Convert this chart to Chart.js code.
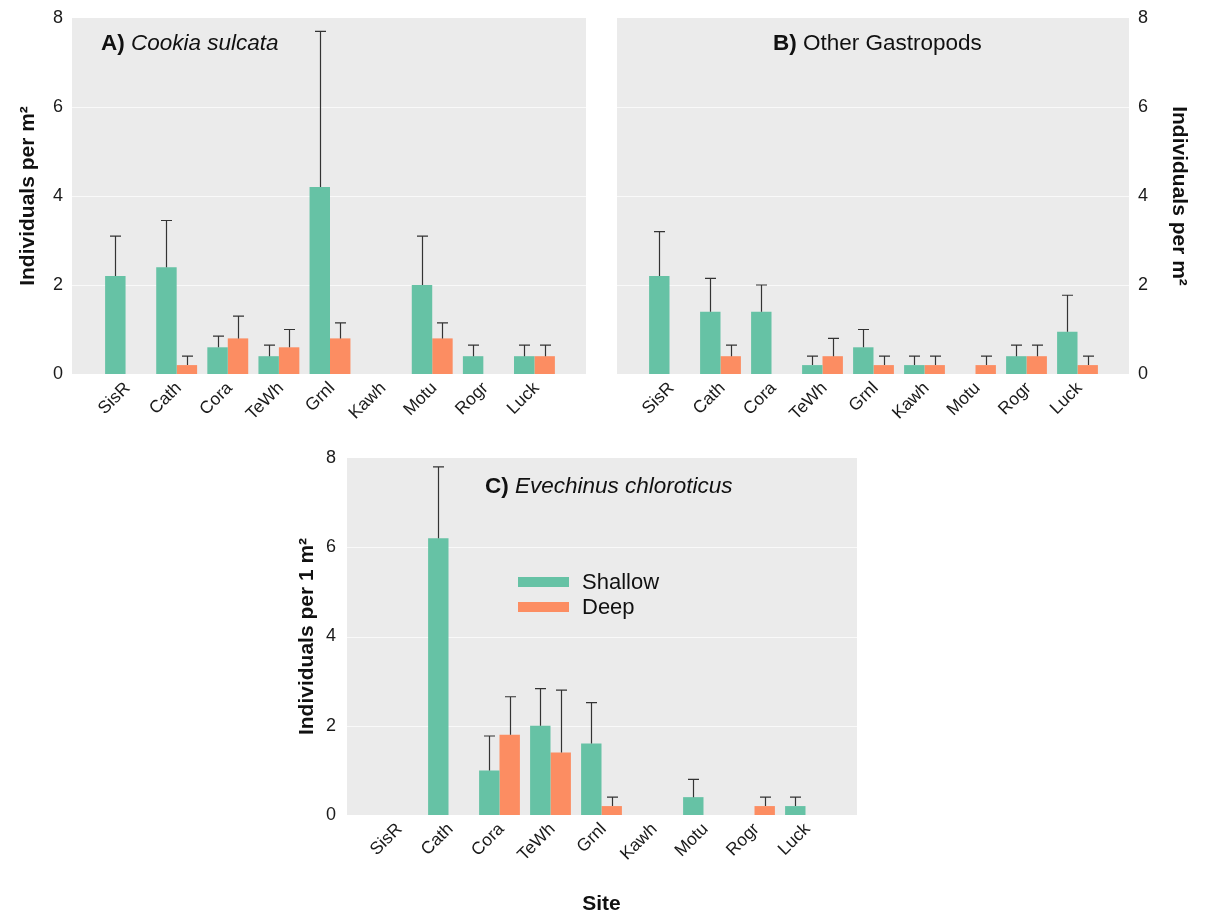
<!DOCTYPE html>
<html>
<head>
<meta charset="utf-8">
<title>Individuals per site</title>
<script src="https://cdn.jsdelivr.net/npm/chart.js@4.4.1/dist/chart.umd.min.js"></script>
<style>
    body { margin: 0; background: #fff; }
    #wrap { position: relative; width: 1206px; height: 915px; }
    canvas { position: absolute; }
</style>
</head>
<body>
<div id="wrap">
    <canvas id="chartA" width="600" height="430" style="left:0;top:0;"></canvas>
    <canvas id="chartB" width="606" height="430" style="left:600px;top:0;"></canvas>
    <canvas id="chartC" width="600" height="485" style="left:280px;top:430px;"></canvas>
</div>
<script>
// サイト名と目盛り
const sites = ['SisR', 'Cath', 'Cora', 'TeWh', 'Grnl', 'Kawh', 'Motu', 'Rogr', 'Luck'];
const yTicks = [0, 2, 4, 6, 8];

// A) Cookia sulcata
const cookiaShallow    = [2.2, 2.4, 0.6, 0.4, 4.2, 0, 2.0, 0.4, 0.4];
const cookiaShallowErr = [3.1, 3.45, 0.85, 0.65, 7.7, null, 3.1, 0.65, 0.65];
const cookiaDeep       = [0, 0.2, 0.8, 0.6, 0.8, 0, 0.8, 0, 0.4];
const cookiaDeepErr    = [null, 0.4, 1.3, 1.0, 1.15, null, 1.15, null, 0.65];

// B) Other Gastropods
const gastroShallow    = [2.2, 1.4, 1.4, 0.2, 0.6, 0.2, 0, 0.4, 0.95];
const gastroShallowErr = [3.2, 2.15, 2.0, 0.4, 1.0, 0.4, null, 0.65, 1.77];
const gastroDeep       = [0, 0.4, 0, 0.4, 0.2, 0.2, 0.2, 0.4, 0.2];
const gastroDeepErr    = [null, 0.65, null, 0.8, 0.4, 0.4, 0.4, 0.65, 0.4];

// C) Evechinus chloroticus
const evechShallow    = [0, 6.2, 1.0, 2.0, 1.6, 0, 0.4, 0, 0.2];
const evechShallowErr = [null, 7.8, 1.77, 2.83, 2.52, null, 0.8, null, 0.4];
const evechDeep       = [0, 0, 1.8, 1.4, 0.2, 0, 0, 0.2, 0];
const evechDeepErr    = [null, null, 2.65, 2.8, 0.4, null, null, 0.4, null];

const GREEN = '#66c2a5';
const ORANGE = '#fc8d62';
const PANEL_BG = '#ebebeb';
const FONT = "'Liberation Sans', Arial, sans-serif";

/**
 * 灰色の背景とグリッド線（軸の外側まで広げる）
 */
const panelBackground = {
    id: 'panelBackground',
    beforeDraw(chart, args, opts) {
        const { ctx, chartArea } = chart;
        const y = chart.scales.y;
        const left = chartArea.left - opts.padLeft;
        const right = chartArea.right + opts.padRight;
        ctx.save();
        ctx.fillStyle = PANEL_BG;
        ctx.fillRect(left, chartArea.top, right - left, chartArea.bottom - chartArea.top);
        ctx.strokeStyle = 'rgba(255,255,255,0.7)';
        ctx.lineWidth = 1.2;
        yTicks.slice(1, -1).forEach(v => {
            const py = Math.round(y.getPixelForValue(v)) + 0.5;
            ctx.beginPath();
            ctx.moveTo(left, py);
            ctx.lineTo(right, py);
            ctx.stroke();
        });
        ctx.restore();
    }
};

/**
 * 上側のエラーバー
 */
const errorBars = {
    id: 'errorBars',
    afterDatasetsDraw(chart) {
        const { ctx } = chart;
        const y = chart.scales.y;
        ctx.save();
        ctx.strokeStyle = '#333';
        ctx.lineWidth = 1.2;
        chart.data.datasets.forEach((ds, i) => {
            const meta = chart.getDatasetMeta(i);
            meta.data.forEach((bar, j) => {
                const err = ds.err[j];
                if (err == null) return;
                const x = Math.round(bar.x) + 0.5;
                const top = y.getPixelForValue(err);
                ctx.beginPath();
                ctx.moveTo(x, bar.y);
                ctx.lineTo(x, top);
                ctx.moveTo(x - 5.5, top);
                ctx.lineTo(x + 5.5, top);
                ctx.stroke();
            });
        });
        ctx.restore();
    }
};

/**
 * パネルタイトル（太字・斜体の混在）と凡例
 */
const panelText = {
    id: 'panelText',
    afterDraw(chart, args, opts) {
        const { ctx } = chart;
        ctx.save();
        ctx.fillStyle = '#111';
        ctx.textBaseline = 'middle';
        ctx.textAlign = 'left';
        let x = opts.x;
        opts.parts.forEach(p => {
            ctx.font = `${p.italic ? 'italic ' : ''}${p.bold ? 'bold ' : ''}${opts.size}px ${FONT}`;
            ctx.fillText(p.text, x, opts.y);
            x += ctx.measureText(p.text).width;
        });

        if (opts.legend) {
            const lg = opts.legend;
            ctx.font = `${lg.size}px ${FONT}`;
            chart.data.datasets.forEach((ds, i) => {
                const ly = lg.y + i * lg.gap;
                ctx.fillStyle = ds.backgroundColor;
                ctx.fillRect(lg.x, ly - lg.thick / 2, lg.len, lg.thick);
                ctx.fillStyle = '#111';
                ctx.fillText(ds.label, lg.x + lg.len + lg.textGap, ly + 1);
            });
        }
        ctx.restore();
    }
};

function buildPanel(canvasId, shallow, shallowErr, deep, deepErr, opt) {
    const canvas = document.getElementById(canvasId);
    const xScale = {
        type: 'category',
        offset: true,
        grid: { display: false, drawTicks: false },
        border: { display: false },
        ticks: {
            color: '#1a1a1a',
            font: { family: FONT, size: 17.5 },
            minRotation: 45,
            maxRotation: 45,
            autoSkip: false,
            padding: 4,
            labelOffset: 2
        },
        afterFit: s => { s.height = opt.xHeight; }
    };
    if (opt.xTitle) {
        xScale.title = {
            display: true,
            text: opt.xTitle,
            color: '#111',
            font: { family: FONT, size: 21, weight: 'bold', lineHeight: 1 },
            padding: { top: 0, bottom: 0 }
        };
    }

    return new Chart(canvas, {
        type: 'bar',
        data: {
            labels: sites,
            datasets: [
                { label: 'Shallow', data: shallow, err: shallowErr, backgroundColor: GREEN },
                { label: 'Deep', data: deep, err: deepErr, backgroundColor: ORANGE }
            ]
        },
        options: {
            responsive: false,
            animation: false,
            devicePixelRatio: 1,
            layout: { padding: opt.padding },
            datasets: { bar: { barPercentage: 1, categoryPercentage: 0.8 } },
            plugins: {
                legend: { display: false },
                tooltip: { enabled: false },
                panelBackground: opt.bg,
                panelText: opt.title
            },
            scales: {
                x: xScale,
                y: {
                    position: opt.yPos,
                    min: 0,
                    max: 8,
                    afterBuildTicks: s => { s.ticks = yTicks.map(v => ({ value: v })); },
                    // 目盛り線は描かず、tickLength でラベルの距離だけ確保する
                    grid: { display: false, drawTicks: true, tickLength: opt.yTickPad - 2 },
                    border: { display: false },
                    ticks: {
                        color: '#1a1a1a',
                        font: { family: FONT, size: 18 },
                        padding: 2
                    },
                    title: {
                        display: true,
                        text: opt.yTitle,
                        color: '#111',
                        font: { family: FONT, size: 21, weight: 'bold' },
                        padding: { top: opt.yTitlePad, bottom: 0 }
                    },
                    afterFit: s => { s.width = opt.yWidth; }
                }
            }
        },
        plugins: [panelBackground, errorBars, panelText]
    });
}

Chart.defaults.font.family = FONT;

buildPanel('chartA', cookiaShallow, cookiaShallowErr, cookiaDeep, cookiaDeepErr, {
    yPos: 'left',
    yTitle: 'Individuals per m²',
    yWidth: 100,
    yTickPad: 37,
    yTitlePad: 16,
    xHeight: 56,
    padding: { left: 0, right: 40, top: 18, bottom: 0 },
    bg: { padLeft: 28, padRight: 26 },
    title: {
        x: 101, y: 44, size: 22.5,
        parts: [{ text: 'A)', bold: true }, { text: ' Cookia sulcata', italic: true }]
    }
});

buildPanel('chartB', gastroShallow, gastroShallowErr, gastroDeep, gastroDeepErr, {
    yPos: 'right',
    yTitle: 'Individuals per m²',
    yWidth: 103,
    yTickPad: 35,
    yTitlePad: 15,
    xHeight: 56,
    padding: { left: 44, right: 0, top: 18, bottom: 0 },
    bg: { padLeft: 27, padRight: 26 },
    title: {
        x: 173, y: 44, size: 22.5,
        parts: [{ text: 'B)', bold: true }, { text: ' Other Gastropods' }]
    }
});

buildPanel('chartC', evechShallow, evechShallowErr, evechDeep, evechDeepErr, {
    yPos: 'left',
    yTitle: 'Individuals per 1 m²',
    yWidth: 92,
    yTickPad: 36,
    yTitlePad: 15,
    xHeight: 100,
    xTitle: 'Site',
    padding: { left: 0, right: 49, top: 28, bottom: 0 },
    bg: { padLeft: 25, padRight: 26 },
    title: {
        x: 205, y: 57, size: 22.5,
        parts: [{ text: 'C)', bold: true }, { text: ' Evechinus chloroticus', italic: true }],
        legend: { x: 238, y: 152, gap: 25, len: 51, thick: 10, textGap: 13, size: 22 }
    }
});
</script>
</body>
</html>
